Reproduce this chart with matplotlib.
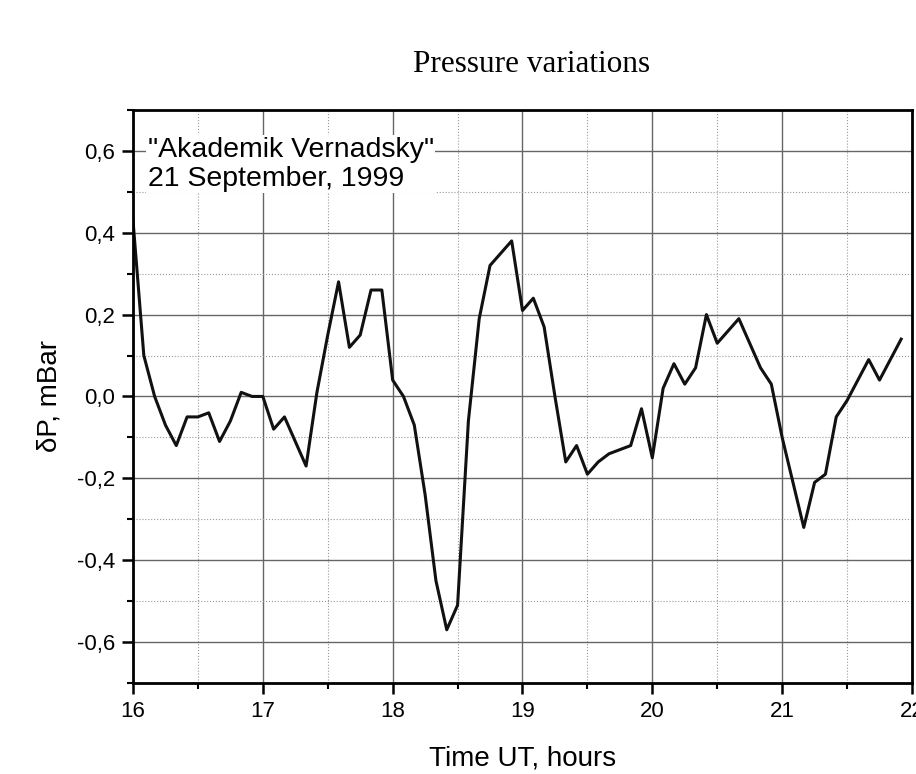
import matplotlib.pyplot as plt
import numpy as np
from matplotlib.ticker import MultipleLocator, FuncFormatter

# 5-minute samples, 16:00 - 21:55 UT
hours = 16 + np.arange(72) * 5 / 60.0
dp = [0.43, 0.10, 0.00, -0.07, -0.12, -0.05, -0.05, -0.04, -0.11, -0.06, 0.01, 0.00,
      0.00, -0.08, -0.05, -0.11, -0.17, 0.01, 0.15, 0.28, 0.12, 0.15, 0.26, 0.26,
      0.04, 0.00, -0.07, -0.24, -0.45, -0.57, -0.51, -0.06, 0.19, 0.32, 0.35, 0.38,
      0.21, 0.24, 0.17, 0.00, -0.16, -0.12, -0.19, -0.16, -0.14, -0.13, -0.12, -0.03,
      -0.15, 0.02, 0.08, 0.03, 0.07, 0.20, 0.13, 0.16, 0.19, 0.13, 0.07, 0.03,
      -0.10, -0.21, -0.32, -0.21, -0.19, -0.05, -0.01, 0.04, 0.09, 0.04, 0.09, 0.14]

title = 'Pressure variations'
note = '"Akademik Vernadsky"\n21 September, 1999'

plt.rcParams['font.family'] = ['Liberation Sans', 'DejaVu Sans']

fig = plt.figure(figsize=(9.16, 7.74), dpi=100)
ax = fig.add_axes([0.1452, 0.1176, 0.8504, 0.7404])

ax.plot(hours, dp, color='#111111', lw=2.2)

ax.set_xlim(16, 22)
ax.set_ylim(-0.7, 0.7)
ax.xaxis.set_major_locator(MultipleLocator(1))
ax.xaxis.set_minor_locator(MultipleLocator(0.5))
ax.yaxis.set_major_locator(MultipleLocator(0.2))
ax.yaxis.set_minor_locator(MultipleLocator(0.1))
ax.yaxis.set_major_formatter(FuncFormatter(lambda v, p: ('%.1f' % v).replace('.', ',') if abs(v) > 1e-9 else '0,0'))
ax.xaxis.set_major_formatter(FuncFormatter(lambda v, p: '%d' % round(v)))

ax.grid(which='major', color='0.4', lw=1.0, ls='-')
ax.grid(which='minor', color='0.6', lw=0.8, ls=':')
ax.set_axisbelow(True)

for s in ax.spines.values():
    s.set_linewidth(2)
ax.tick_params(which='major', direction='out', length=8, width=1.8, labelsize=16, pad=5)
ax.tick_params(which='minor', direction='out', length=4, width=1.5)

ax.set_xlabel('Time UT, hours', fontsize=20, labelpad=17)
ax.set_ylabel('δP, mBar', fontsize=20, labelpad=10)
fig.text(0.58, 0.917, title, ha='center', va='center', fontsize=22.5,
         family='Liberation Serif')

ax.text(0.019, 0.953, note, transform=ax.transAxes, ha='left', va='top',
        fontsize=20.5, linespacing=1.15,
        bbox=dict(facecolor='white', edgecolor='none', pad=1))

fig.savefig('out.png', dpi=100)
